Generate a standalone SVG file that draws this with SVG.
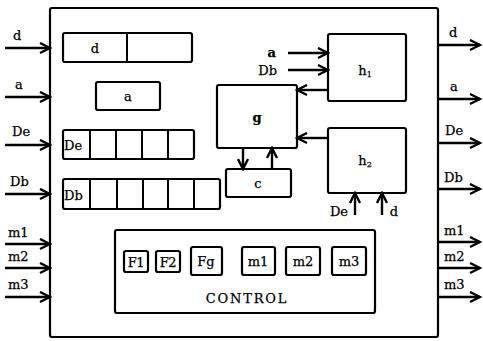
<svg xmlns="http://www.w3.org/2000/svg" width="483" height="341" viewBox="0 0 483 341">
<style>
.r{fill:none;stroke:#000;stroke-width:2.2}
.t{font-family:'DejaVu Serif','Liberation Serif',serif;font-size:13px;fill:#000;stroke:#000;stroke-width:0.25}
.c{text-anchor:middle}
.w{stroke:#000;stroke-width:2.4;fill:none;marker-end:url(#ah)}
.l{stroke:#000;stroke-width:2;fill:none}
</style>
<defs>
<marker id="ah" markerUnits="userSpaceOnUse" markerWidth="13" markerHeight="13" refX="11" refY="6.5" orient="auto">
<path d="M1,1.5 L11,6.5 L1,11.5" fill="none" stroke="#000" stroke-width="2.4"/>
</marker>
</defs>
<rect width="483" height="341" fill="#fff"/>
<g id="main"><rect x="50" y="8" width="388" height="329" rx="2" class="r" stroke-width="2.5"/></g>
<g id="reg_d"><rect x="63" y="33" width="129" height="29" rx="2" class="r"/><line x1="127" y1="33" x2="127" y2="62" class="l"/><text x="95" y="53" class="t c">d</text></g>
<g id="reg_a"><rect x="96" y="82" width="64" height="28" rx="2" class="r"/><text x="128" y="101" class="t c">a</text></g>
<g id="reg_De"><rect x="63" y="130" width="131" height="29" rx="2" class="r"/>
<path d="M90,130V159M116,130V159M142,130V159M168,130V159" class="l"/><text x="64" y="150" class="t">De</text></g>
<g id="reg_Db"><rect x="63" y="179" width="157" height="30" rx="2" class="r"/>
<path d="M90,179V209M117,179V209M143,179V209M168,179V209M194,179V209" class="l"/><text x="64" y="200" class="t">Db</text></g>
<g id="g"><rect x="217" y="85" width="80" height="63" rx="2" class="r"/><text x="257" y="122" class="t c" font-weight="bold">g</text></g>
<g id="c"><rect x="226" y="169" width="65" height="28" rx="2" class="r"/><text x="258" y="188" class="t c">c</text></g>
<g id="h1"><rect x="328" y="34" width="78" height="67" rx="2" class="r"/><text x="365" y="75" class="t c">h<tspan font-size="8" dy="2">1</tspan></text></g>
<g id="h2"><rect x="328" y="128" width="78" height="65" rx="2" class="r"/><text x="365" y="165" class="t c">h<tspan font-size="8" dy="2">2</tspan></text></g>
<g id="control"><rect x="115" y="230" width="260" height="83" rx="2" class="r"/>
<rect x="124" y="251" width="24" height="21" rx="2" class="r"/><text x="136" y="267" class="t c" letter-spacing="-0.5">F1</text>
<rect x="156" y="251" width="24" height="21" rx="2" class="r"/><text x="168" y="267" class="t c" letter-spacing="-0.5">F2</text>
<rect x="191" y="247" width="31" height="28" rx="2" class="r"/><text x="206" y="266" class="t c">Fg</text>
<rect x="242" y="247" width="33" height="28" rx="2" class="r"/><text x="258" y="266" class="t c">m1</text>
<rect x="286" y="247" width="34" height="28" rx="2" class="r"/><text x="303" y="266" class="t c">m2</text>
<rect x="332" y="247" width="34" height="28" rx="2" class="r"/><text x="349" y="266" class="t c">m3</text>
<text x="247" y="303" class="t c" font-size="14" letter-spacing="1.8">CONTROL</text></g>
<g id="connectors">
<path d="M5,48H50" class="w"/><path d="M5,97H50" class="w"/><path d="M5,145H50" class="w"/><path d="M5,194H50" class="w"/>
<path d="M5,244H50" class="w"/><path d="M5,268H50" class="w"/><path d="M5,297H50" class="w"/>
<path d="M438,45H480" class="w"/><path d="M438,99H480" class="w"/><path d="M438,143H480" class="w"/><path d="M438,189H480" class="w"/>
<path d="M438,242H480" class="w"/><path d="M438,268H480" class="w"/><path d="M438,297H480" class="w"/>
<path d="M288,53H328" class="w"/><path d="M288,70H328" class="w"/>
<path d="M328,90H297" class="w"/><path d="M328,138H297" class="w"/>
<path d="M243,148V169" class="w"/>
<path d="M272,169V148" class="w"/>
<path d="M355,215V193" class="w"/><path d="M382,215V193" class="w"/>
</g>
<g id="labels">
<text x="13" y="40" class="t">d</text>
<text x="15" y="89" class="t">a</text>
<text x="12" y="136" class="t">De</text>
<text x="10" y="186" class="t">Db</text>
<text x="8" y="237" class="t">m1</text>
<text x="8" y="261" class="t">m2</text>
<text x="8" y="289" class="t">m3</text>
<text x="449" y="37" class="t">d</text>
<text x="450" y="91" class="t">a</text>
<text x="445" y="135" class="t">De</text>
<text x="444" y="182" class="t">Db</text>
<text x="444" y="235" class="t">m1</text>
<text x="444" y="261" class="t">m2</text>
<text x="444" y="289" class="t">m3</text>
<text x="276" y="57" class="t" text-anchor="end" font-weight="bold">a</text>
<text x="277" y="75" class="t" text-anchor="end">Db</text>
<text x="339" y="216" class="t c">De</text>
<text x="394" y="216" class="t c">d</text>
</g>
</svg>
